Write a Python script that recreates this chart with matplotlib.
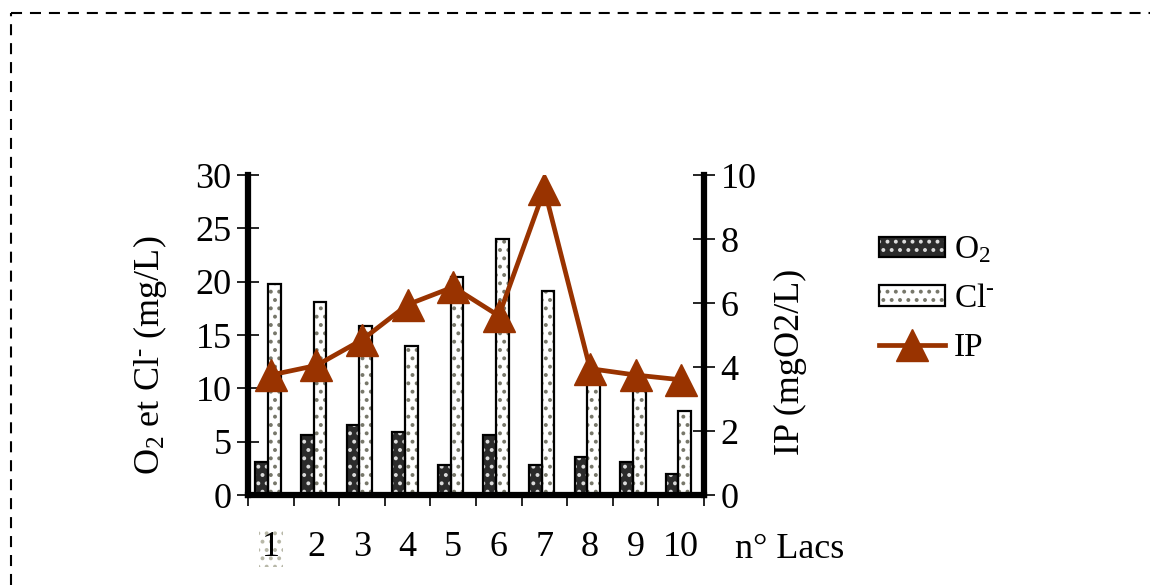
import matplotlib
matplotlib.use("Agg")
import matplotlib.pyplot as plt
from matplotlib.patches import Patch
from matplotlib.lines import Line2D
import numpy as np

# ---------------------
# Data
# ---------------------
lacs = [1, 2, 3, 4, 5, 6, 7, 8, 9, 10]
o2 = [3.1, 5.6, 6.6, 5.9, 2.8, 5.6, 2.8, 3.6, 3.1, 2.0]
cl = [19.8, 18.1, 15.8, 14.0, 20.4, 24.0, 19.1, 11.5, 9.9, 7.9]
ip = [3.75, 4.05, 4.85, 5.95, 6.5, 5.6, 9.55, 3.95, 3.75, 3.6]

left_ticks = [0, 5, 10, 15, 20, 25, 30]
right_ticks = [0, 2, 4, 6, 8, 10]

# ---------------------
# Style
# ---------------------
plt.rcParams["font.family"] = ["Liberation Serif", "DejaVu Serif"]
plt.rcParams["mathtext.fontset"] = "custom"
plt.rcParams["mathtext.rm"] = "Liberation Serif"
plt.rcParams["mathtext.it"] = "Liberation Serif:italic"
plt.rcParams["hatch.linewidth"] = 1.6

FS = 26
IP_COLOR = "#993300"
O2_FACE = "#2b2b2b"
O2_DOT = "#dcdcdc"
CL_FACE = "white"
CL_DOT = "#77776a"

fig = plt.figure(figsize=(11.5, 5.85), dpi=100)
ax = fig.add_axes([0.2157, 0.1538, 0.3965, 0.547])

x = np.array(lacs)
w = 0.28

# bars: hatched fill first, then black outline on top
ax.bar(x - 0.20, o2, w, color=O2_FACE, edgecolor=O2_DOT, hatch="..", linewidth=0, zorder=2)
ax.bar(x - 0.20, o2, w, fill=False, edgecolor="black", linewidth=1.6, zorder=3)
ax.bar(x + 0.08, cl, w, color=CL_FACE, edgecolor=CL_DOT, hatch="..", linewidth=0, zorder=2)
ax.bar(x + 0.08, cl, w, fill=False, edgecolor="black", linewidth=1.6, zorder=3)

ax.set_xlim(0.5, 10.5)
ax.set_ylim(0, 30)
ax.set_yticks(left_ticks)
ax.set_xticks(x)
ax.set_xticklabels([str(v) for v in lacs])
ax.set_xticks(np.arange(0.5, 11, 1), minor=True)
ax.tick_params(axis="x", which="major", length=0, pad=26, labelsize=FS)
ax.tick_params(axis="x", which="minor", length=8, width=1.2, direction="out")
ax.tick_params(axis="y", length=16, width=1.2, direction="inout", labelsize=FS, pad=4)

for side in ["top", "right"]:
    ax.spines[side].set_visible(False)
for side in ["left", "bottom"]:
    ax.spines[side].set_linewidth(4.5)

# light dotted box behind the first category label
lbl = ax.get_xticklabels()[0]
lbl.set_bbox(dict(boxstyle="square,pad=0.08", facecolor="white", edgecolor="#b8b8a8",
                  hatch="..", linewidth=0))

# right axis with IP
ax2 = ax.twinx()
ax2.plot(x, ip, color=IP_COLOR, linewidth=3.4, marker="^", markersize=23,
         markerfacecolor=IP_COLOR, markeredgecolor=IP_COLOR, zorder=5)
ax2.set_ylim(0, 10)
ax2.set_yticks(right_ticks)
ax2.tick_params(axis="y", length=16, width=1.2, direction="inout", labelsize=FS, pad=4)
for side in ["top", "left", "bottom"]:
    ax2.spines[side].set_visible(False)
ax2.spines["right"].set_linewidth(4.5)

# axis titles
fig.text(150 / 1150, 1 - 355 / 585, r"O$_2$ et Cl$^{\text{-}}$ (mg/L)", rotation=90,
         ha="center", va="center", fontsize=FS)
fig.text(790 / 1150, 1 - 362 / 585, "IP (mgO2/L)", rotation=90,
         ha="center", va="center", fontsize=FS)
fig.text(790 / 1150, 1 - 550 / 585, "n° Lacs", ha="center", va="center", fontsize=FS)

# legend
h_o2 = (Patch(facecolor=O2_FACE, edgecolor=O2_DOT, hatch="..", linewidth=0),
        Patch(fill=False, edgecolor="black", linewidth=1.6))
h_cl = (Patch(facecolor=CL_FACE, edgecolor=CL_DOT, hatch="..", linewidth=0),
        Patch(fill=False, edgecolor="black", linewidth=1.6))
h_ip = Line2D([], [], color=IP_COLOR, linewidth=3.4, marker="^", markersize=23)
fig.legend([h_o2, h_cl, h_ip], [r"O$_2$", r"Cl$^{\text{-}}$", "IP"],
           loc="upper left", bbox_to_anchor=(862 / 1150, 1 - 218 / 585),
           frameon=False, fontsize=24, handlelength=2.0, handleheight=0.55,
           handletextpad=0.25, labelspacing=0.55, borderpad=0)

# dashed frame (top and left edges)
dash = (0, (5.3, 3.8))
fig.add_artist(Line2D([11 / 1150, 1.0], [1 - 13 / 585, 1 - 13 / 585], transform=fig.transFigure,
                      color="black", linewidth=1.5, linestyle=dash))
fig.add_artist(Line2D([11 / 1150, 11 / 1150], [0.0, 1 - 13 / 585], transform=fig.transFigure,
                      color="black", linewidth=1.5, linestyle=dash))

fig.savefig("out.png", dpi=100)
plt.close(fig)
